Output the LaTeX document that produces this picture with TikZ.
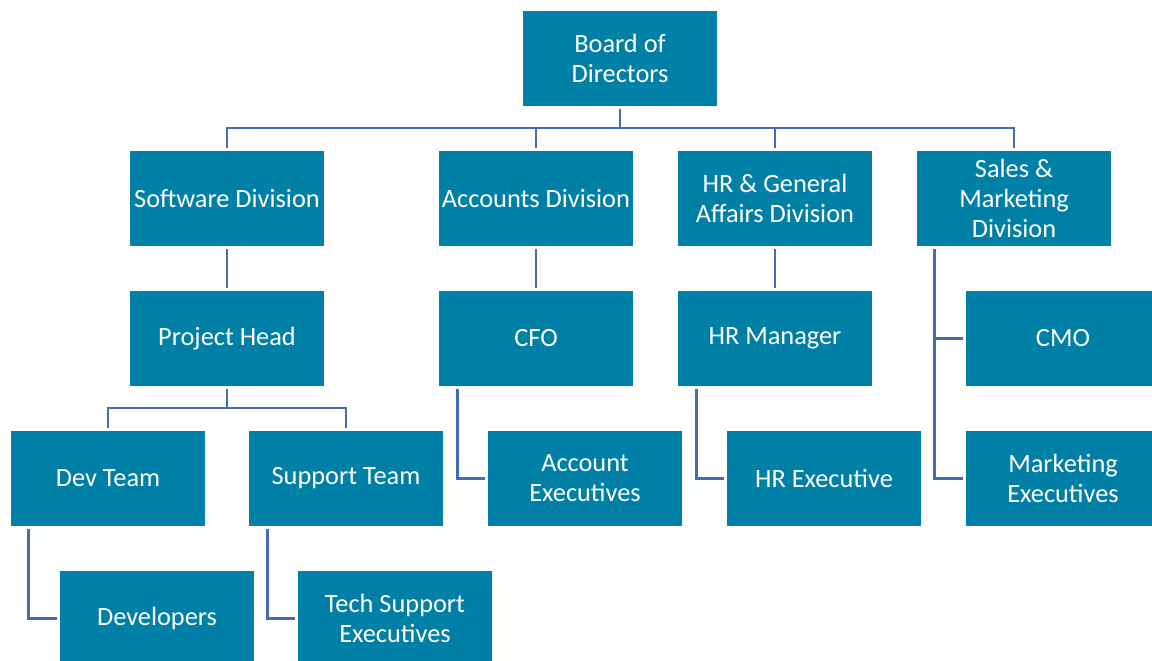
\documentclass[tikz,border=0pt]{standalone}
\usepackage{fontspec}
\setmainfont{Carlito}
\definecolor{boxteal}{RGB}{0,128,167}
\definecolor{linkblue}{RGB}{68,107,181}
\tikzstyle{unit} = [rectangle, minimum width=3.88cm, minimum height=1.9cm, inner sep=0pt, align=center, text=white, fill=boxteal, font=\fontsize{15}{17}\selectfont]
\tikzstyle{link} = [draw=linkblue, line width=1.6pt, shorten <=0.06cm, shorten >=0.06cm]
\tikzstyle{stem} = [draw=linkblue, line width=1.6pt, shorten <=0.06cm]

\begin{document}
\begin{tikzpicture}[x=0.02cm, y=-0.02cm]
	\useasboundingbox (0,0) rectangle (1152,660);
	\clip (0,0) rectangle (1152,660);
	% top level
	\node (board) [unit] at (620,58.5) {Board of\\Directors};
	\node (soft) [unit] at (227,198.5) {Software Division};
	\node (acc) [unit] at (536,198.5) {Accounts Division};
	\node (hrd) [unit] at (775,198.5) {HR \& General\\Affairs Division};
	\node (sales) [unit] at (1014,198.5) {Sales \&\\Marketing\\Division};
	\coordinate (bj) at (620,128);
	\draw [stem] (board.south) -- (bj);
	\draw [link] (soft.north) |- (bj) -| (sales.north);
	\draw [stem] (acc.north) -- (acc.north |- bj);
	\draw [stem] (hrd.north) -- (hrd.north |- bj);
	% second level
	\node (phead) [unit] at (227,338.5) {Project Head};
	\node (cfo) [unit] at (536,338.5) {CFO};
	\node (hrm) [unit] at (775,338.5) {HR Manager};
	\node (cmo) [unit] at (1063,338.5) {CMO};
	\draw [link] (soft) -- (phead);
	\draw [link] (acc) -- (cfo);
	\draw [link] (hrd) -- (hrm);
	% third level
	\node (dev) [unit] at (108,478.5) {Dev Team};
	\node (sup) [unit] at (346,478.5) {Support Team};
	\node (accx) [unit] at (585,478.5) {Account\\Executives};
	\node (hrx) [unit] at (824,478.5) {HR Executive};
	\node (mktx) [unit] at (1063,478.5) {Marketing\\Executives};
	\coordinate (pj) at (227,408);
	\draw [stem] (phead.south) -- (pj);
	\draw [link] (dev.north) |- (pj) -| (sup.north);
	\draw [link] ([xshift=0.38cm]cfo.south west) |- (accx.west);
	\draw [link] ([xshift=0.38cm]hrm.south west) |- (hrx.west);
	\coordinate (sj) at ([xshift=0.36cm]sales.south west);
	\draw [link] (sj) |- (mktx.west);
	\draw [stem] (cmo.west) -- (cmo.west -| sj);
	% bottom level
	\node (devs) [unit] at (157,618.5) {Developers};
	\node (techx) [unit] at (395,618.5) {Tech Support\\Executives};
	\draw [link] ([xshift=0.36cm]dev.south west) |- (devs.west);
	\draw [link] ([xshift=0.38cm]sup.south west) |- (techx.west);
\end{tikzpicture}
\end{document}
